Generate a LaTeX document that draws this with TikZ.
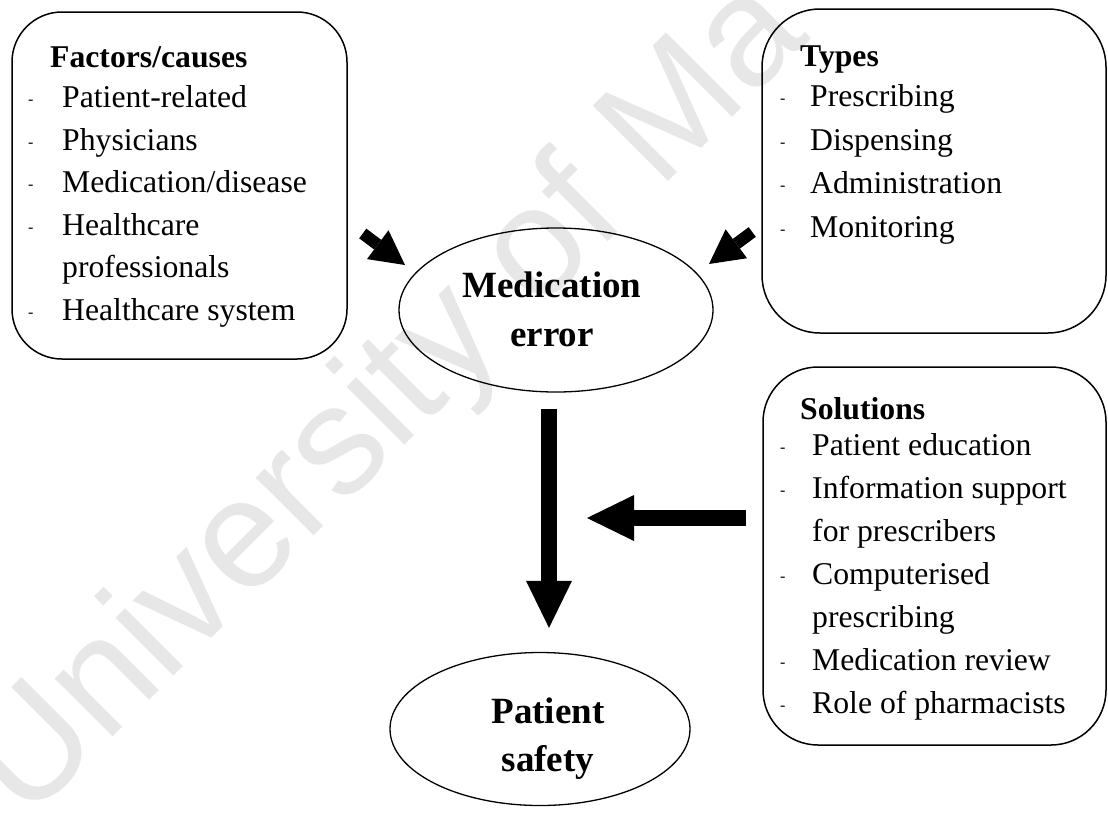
\documentclass[tikz,border=0pt]{standalone}
\usepackage{fontspec}
\setmainfont{Liberation Serif}
\newfontfamily\wmfont{Liberation Sans}
\usetikzlibrary{arrows.meta,shapes.geometric,calc}
\definecolor{wmgray}{RGB}{231,231,231}
% small hanging dash used in front of every list entry
\newcommand\itemdash{\raisebox{3pt}{\fontsize{16}{16}\selectfont -}}
\begin{document}
\begin{tikzpicture}[x=1pt,y=-1pt,
  panel/.style={draw, line width=1.5pt, rectangle, rounded corners=#1, inner sep=0pt},
  listtext/.style={anchor=base west, inner sep=0pt, font=\fontsize{31.7}{43}\selectfont},
  bubble/.style={draw, line width=1.3pt, ellipse, inner sep=0pt},
  bubbletext/.style={anchor=base, inner sep=0pt},
  bigarrow/.style={line width=16pt, -{Triangle[length=47pt,width=46pt,line width=0pt]}},
  smallarrow/.style={line width=12pt, -{Triangle[length=34pt,width=36pt,line width=0pt]}}]
\useasboundingbox (0,0) rectangle (1108,814);
\clip (0,0) rectangle (1108,814);

% background watermark
\node[rotate=45, anchor=base west, inner sep=0pt, text=wmgray,
      font=\fontsize{155}{155}\selectfont\wmfont] (wm) at (26,824) {University of Ma};

% boxes
\node[panel=50pt, minimum width=335pt, minimum height=347pt] (fac) at (179.5,185.5) {};
\node[panel=58pt, minimum width=344pt, minimum height=324pt] (typ) at (934,171) {};
\node[panel=55pt, minimum width=343pt, minimum height=378pt] (sol) at (934.5,556) {};

\node[listtext, font=\fontsize{31.7}{42.5}\selectfont] (factxt) at (28,67) {%
\begin{tabular}[t]{@{}p{34pt}@{}l@{}}
\multicolumn{2}{@{\hspace{22pt}}l@{}}{\textbf{Factors/causes}}\\[-2pt]
\itemdash & Patient-related\\
\itemdash & Physicians\\
\itemdash & Medication/disease\\
\itemdash & Healthcare\\
 & professionals\\
\itemdash & Healthcare system
\end{tabular}};

\node[listtext, font=\fontsize{31.7}{43.5}\selectfont] (typtxt) at (780,66) {%
\begin{tabular}[t]{@{}p{30pt}@{}l@{}}
\multicolumn{2}{@{\hspace{20pt}}l@{}}{\textbf{Types}}\\[-3pt]
\itemdash & Prescribing\\
\itemdash & Dispensing\\
\itemdash & Administration\\
\itemdash & Monitoring
\end{tabular}};

\node[listtext] (soltxt) at (780,419) {%
\begin{tabular}[t]{@{}p{32pt}@{}l@{}}
\multicolumn{2}{@{\hspace{20pt}}l@{}}{\textbf{Solutions}}\\[-7pt]
\itemdash & Patient education\\
\itemdash & Information support\\
 & for prescribers\\
\itemdash & Computerised\\
 & prescribing\\
\itemdash & Medication review\\
\itemdash & Role of pharmacists
\end{tabular}};

% central ellipses
\node[bubble, minimum width=314pt, minimum height=164pt] (me) at (556,310) {};
\node[bubble, minimum width=300pt, minimum height=153pt] (ps) at (540,729) {};
\node[bubbletext, font=\fontsize{37}{49}\selectfont\bfseries] (metxt) at (552,297)
  {\begin{tabular}[t]{@{}c@{}}Medication\\error\end{tabular}};
\node[bubbletext, font=\fontsize{37}{48}\selectfont\bfseries] (pstxt) at (548,723)
  {\begin{tabular}[t]{@{}c@{}}Patient\\safety\end{tabular}};

% arrows
\coordinate (join) at (587,518);
\draw[bigarrow] ($(me.south)+(-7,16)$) -- ($(ps.north)+(9,-24)$);
\draw[bigarrow] (join -| {$(sol.west)+(-16,0)$}) -- (join);
\draw[smallarrow] ($(fac.east)+(15,48)$) -- ($(me.center)+(-151,-45)$);
\draw[smallarrow] ($(typ.west)+(-9,61)$) -- ($(me.center)+(153,-46)$);
\end{tikzpicture}
\end{document}
